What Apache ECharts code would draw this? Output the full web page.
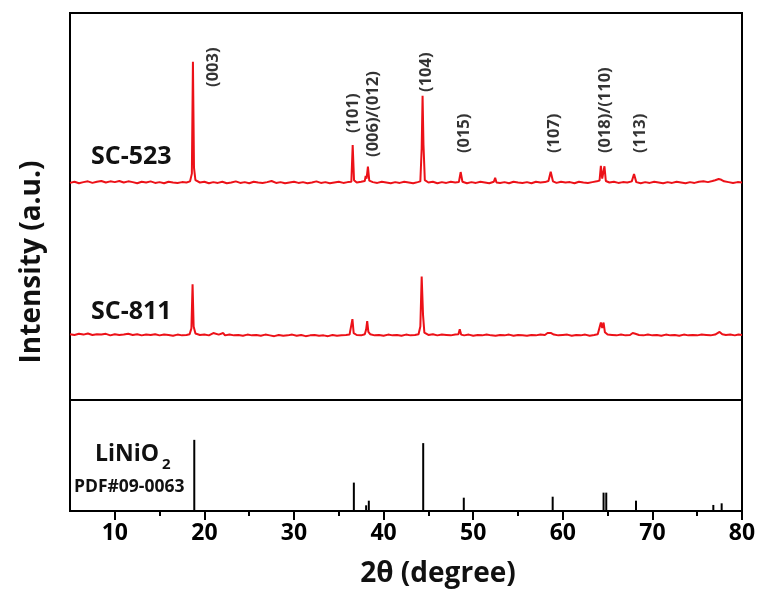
<!DOCTYPE html>
<html>
<head>
<meta charset="utf-8">
<title>XRD</title>
<script src="https://cdn.jsdelivr.net/npm/echarts@6/dist/echarts.min.js"></script>
<style>
html,body{margin:0;padding:0;background:#fff;}
#xrd{width:763px;height:595px;}
</style>
</head>
<body>
<div id="xrd"></div>
<script>
// 2theta / intensity pairs (top panel, stacked a.u.)
var sc523 = [
	[5,56.1],[5.5,56.4],[6,56.0],[6.5,56.3],[7,56.5],[7.5,56.1],[8,56.4],[8.5,56.6],[9,56.2],[9.5,56.5],
	[10,56.3],[10.5,56.6],[11,56.2],[11.5,56.5],[12,56.3],[12.5,56.0],[13,56.4],[13.5,56.2],[14,56.5],[14.5,56.1],
	[15,56.3],[15.5,56.0],[16,56.4],[16.5,56.2],[17,56.1],[17.5,56.3],[18,56.2],[18.4,56.5],[18.6,58.5],[18.72,87.4],
	[18.84,60.0],[19.0,56.8],[19.5,56.2],[20,56.4],[20.5,56.0],[21,56.3],[21.5,56.1],[22,56.4],[22.5,56.0],[23,56.2],
	[23.5,56.5],[24,56.1],[24.5,56.3],[25,56.0],[25.5,56.4],[26,56.2],[26.5,56.1],[27,56.3],[27.5,56.6],[28,56.1],
	[28.5,56.3],[29,56.0],[29.5,56.2],[30,56.4],[30.5,56.1],[31,56.3],[31.5,56.0],[32,56.2],[32.5,56.5],[33,56.1],
	[33.5,56.3],[34,56.0],[34.5,56.2],[35,56.4],[35.5,56.1],[36,56.3],[36.4,56.4],[36.55,65.9],[36.7,56.8],[37,56.2],
	[37.5,56.4],[37.9,56.6],[38.0,57.9],[38.1,57.2],[38.25,60.3],[38.4,56.7],[38.8,56.3],[39.3,56.1],[39.8,56.4],[40.3,56.2],
	[40.8,56.0],[41.3,56.3],[41.8,56.1],[42.3,56.4],[42.8,56.2],[43.3,56.0],[43.8,56.3],[44.1,56.5],[44.25,65.0],[44.35,78.6],
	[44.45,66.0],[44.6,56.8],[45,56.2],[45.5,56.4],[46,56.0],[46.5,56.3],[47,56.1],[47.5,56.4],[48,56.2],[48.4,56.3],
	[48.6,58.9],[48.8,56.4],[49.3,56.0],[49.8,56.3],[50.3,56.1],[50.8,56.4],[51.3,56.2],[51.8,56.0],[52.3,56.4],[52.45,57.4],
	[52.6,56.2],[53,56.1],[53.5,56.3],[54,56.0],[54.5,56.4],[55,56.2],[55.5,56.1],[56,56.3],[56.5,56.0],[57,56.4],
	[57.5,56.2],[58,56.3],[58.4,56.6],[58.65,59.0],[58.9,56.5],[59.3,56.1],[59.8,56.4],[60.3,56.2],[60.8,56.3],[61.3,56.0],
	[61.8,56.4],[62.3,56.2],[62.8,56.1],[63.3,56.3],[63.8,56.5],[64.1,56.7],[64.25,60.5],[64.4,57.2],[64.5,57.0],[64.65,60.4],
	[64.8,56.6],[65.2,56.2],[65.7,56.4],[66.2,56.1],[66.7,56.3],[67.2,56.2],[67.7,56.5],[67.95,58.4],[68.2,56.3],[68.7,56.0],
	[69.2,56.3],[69.7,56.1],[70.2,56.4],[70.7,56.2],[71.2,56.0],[71.7,56.3],[72.2,56.1],[72.7,56.4],[73.2,56.2],[73.7,56.0],
	[74.2,56.3],[74.7,56.1],[75.2,56.4],[75.7,56.5],[76.2,56.3],[76.7,56.6],[77.0,56.8],[77.4,57.1],[77.7,56.9],[78.0,56.5],
	[78.5,56.3],[79,56.1],[79.5,56.3],[80,56.2]
];
var sc811 = [
	[5,17.0],[5.5,16.8],[6,17.1],[6.5,16.9],[7,17.2],[7.5,16.8],[8,17.0],[8.5,16.9],[9,17.1],[9.5,16.7],
	[10,17.0],[10.5,16.8],[11,16.9],[11.5,17.1],[12,16.8],[12.5,17.0],[13,16.7],[13.5,16.9],[14,16.8],[14.5,17.0],
	[15,16.7],[15.5,16.9],[16,16.8],[16.5,16.6],[17,16.9],[17.5,16.7],[18,16.8],[18.35,17.0],[18.55,18.5],[18.68,29.9],
	[18.8,19.0],[19.0,17.2],[19.5,16.8],[20,16.9],[20.5,16.7],[21,17.3],[21.2,16.8],[21.6,16.9],[22.1,17.3],[22.3,16.7],
	[22.8,16.9],[23.3,16.7],[23.8,16.8],[24.3,16.6],[24.8,16.9],[25.3,16.7],[25.8,16.8],[26.3,16.6],[26.8,16.9],[27.3,16.7],
	[27.8,16.5],[28.3,16.8],[28.8,16.6],[29.3,16.7],[29.8,16.9],[30.3,16.6],[30.8,16.8],[31.3,16.5],[31.8,16.7],[32.3,16.8],
	[32.8,16.6],[33.3,16.7],[33.8,16.5],[34.3,16.8],[34.8,16.6],[35.3,16.7],[35.8,16.8],[36.2,16.9],[36.38,17.4],[36.52,20.9],
	[36.66,17.3],[37,16.8],[37.5,16.7],[37.9,17.0],[38.05,18.2],[38.17,20.4],[38.3,17.6],[38.5,17.0],[39,16.7],[39.5,16.8],
	[40,16.6],[40.5,16.9],[41,16.7],[41.5,16.8],[42,16.6],[42.5,16.9],[43,16.7],[43.5,16.8],[43.9,17.0],[44.1,19.0],
	[44.25,31.9],[44.4,22.0],[44.55,17.4],[45,16.8],[45.5,17.0],[46,16.7],[46.5,16.9],[47,16.8],[47.5,16.7],[48,16.9],
	[48.35,17.0],[48.5,18.3],[48.65,16.9],[49,16.7],[49.5,16.9],[50,16.6],[50.5,16.8],[51,16.7],[51.5,16.9],[52,16.7],
	[52.5,16.6],[53,16.8],[53.5,16.7],[54,16.9],[54.5,16.6],[55,16.8],[55.5,16.7],[56,16.6],[56.5,16.8],[57,16.7],
	[57.5,16.9],[58,16.8],[58.3,17.3],[58.5,17.8],[58.7,17.3],[59,16.9],[59.5,16.7],[60,16.8],[60.5,16.9],[61,16.6],
	[61.5,16.8],[62,16.7],[62.5,16.9],[63,16.6],[63.5,16.8],[63.9,17.0],[64.1,17.5],[64.25,20.0],[64.4,18.6],[64.55,20.0],
	[64.7,17.5],[65,16.9],[65.5,16.8],[66,16.7],[66.5,16.9],[67,16.7],[67.5,16.8],[67.8,17.3],[67.9,17.8],[68.1,17.1],
	[68.5,16.8],[69,16.7],[69.5,16.9],[70,16.7],[70.5,16.8],[71,16.6],[71.5,16.9],[72,16.7],[72.5,16.8],[73,16.6],
	[73.5,16.9],[74,16.7],[74.5,16.8],[75,16.7],[75.5,16.9],[76,16.8],[76.5,16.7],[77,16.9],[77.5,17.6],[77.8,17.0],
	[78.2,16.8],[78.7,16.9],[79.2,16.7],[79.6,16.9],[80,16.8]
];
// standard card LiNiO2 PDF#09-0063 (relative intensity)
var pdfAngles = [18.87, 36.68, 38.05, 38.35, 44.42, 48.95, 58.87, 64.55, 64.85, 68.17, 76.8, 77.73];
var pdfIntensity = [100, 39.9, 8, 14.5, 95.4, 18.7, 20.1, 25.8, 25.8, 14.5, 8.5, 10.8];
// hkl labels: [2theta, height, text]
var hklLabels = [
	[20.96, 80.9, '(003)'],
	[36.58, 69.0, '(101)'],
	[38.82, 62.8, '(006)/(012)'],
	[44.73, 79.6, '(104)'],
	[48.97, 63.8, '(015)'],
	[59.02, 63.8, '(107)'],
	[64.71, 63.8, '(018)/(110)'],
	[68.62, 63.8, '(113)']
];
var majorTicks = [10, 20, 30, 40, 50, 60, 70, 80];
var minorTicks = [15, 25, 35, 45, 55, 65, 75];

var fontName = '"Open Sans", "Noto Sans", sans-serif';
var lineRed = '#ec1118';

var pdfData = [];
for (var i = 0; i < pdfAngles.length; i++) {
	pdfData.push([pdfAngles[i], pdfIntensity[i]]);
}

var myChart = echarts.init(document.getElementById('xrd'));

var option = {
	backgroundColor: '#fff',
	animation: false,
	grid: [
		{left: 70, right: 21, top: 13, bottom: 195, show: true, borderColor: '#000', borderWidth: 2},
		{left: 70, right: 21, top: 400, bottom: 84, show: true, borderColor: '#000', borderWidth: 2}
	],
	xAxis: [
		{gridIndex: 0, type: 'value', min: 5, max: 80, show: false},
		{
			gridIndex: 1, type: 'value', min: 5, max: 80, position: 'bottom',
			axisLine: {show: true, onZero: false, lineStyle: {color: '#000', width: 2}},
			axisTick: {show: true, inside: false, length: 9, customValues: majorTicks, lineStyle: {color: '#000', width: 2}},
			axisLabel: {show: true, customValues: majorTicks, margin: 11, color: '#000', fontSize: 23, fontWeight: 'bold', fontFamily: fontName},
			splitLine: {show: false}
		},
		{
			// short ticks between the labelled ones
			gridIndex: 1, type: 'value', min: 5, max: 80, position: 'bottom',
			axisLine: {show: false, onZero: false},
			axisTick: {show: true, inside: false, length: 5, customValues: minorTicks, lineStyle: {color: '#000', width: 2}},
			axisLabel: {show: false},
			splitLine: {show: false}
		}
	],
	yAxis: [
		{gridIndex: 0, type: 'value', min: 0, max: 100, show: false},
		{gridIndex: 1, type: 'value', min: 0, max: 156, show: false}
	],
	graphic: [
		{type: 'text', left: 91, top: 144, style: {text: 'SC-523', fontSize: 25, fontWeight: 'bold', fontFamily: fontName, fill: '#111'}},
		{type: 'text', left: 91, top: 299, style: {text: 'SC-811', fontSize: 25, fontWeight: 'bold', fontFamily: fontName, fill: '#111'}},
		{type: 'text', left: 95, top: 443, style: {text: 'LiNiO', fontSize: 23, fontWeight: 'bold', fontFamily: fontName, fill: '#111'}},
		{type: 'text', left: 162, top: 457, style: {text: '2', fontSize: 15, fontWeight: 'bold', fontFamily: fontName, fill: '#111'}},
		{type: 'text', left: 74, top: 478, style: {text: 'PDF#09-0063', fontSize: 17.5, fontWeight: 'bold', fontFamily: fontName, fill: '#111'}},
		{
			type: 'text', x: 32, y: 262, rotation: Math.PI / 2,
			style: {text: 'Intensity (a.u.)', fontSize: 28, fontWeight: 'bold', fontFamily: fontName, fill: '#111', align: 'center', verticalAlign: 'middle'}
		},
		{
			type: 'text', x: 438, y: 574,
			style: {text: '2θ (degree)', fontSize: 28, fontWeight: 'bold', fontFamily: fontName, fill: '#111', align: 'center', verticalAlign: 'middle'}
		}
	],
	series: [
		{
			name: 'SC-523', type: 'line', xAxisIndex: 0, yAxisIndex: 0,
			data: sc523, showSymbol: false, symbol: 'none',
			lineStyle: {color: lineRed, width: 2}
		},
		{
			name: 'SC-811', type: 'line', xAxisIndex: 0, yAxisIndex: 0,
			data: sc811, showSymbol: false, symbol: 'none',
			lineStyle: {color: lineRed, width: 2}
		},
		{
			name: 'hkl', type: 'scatter', xAxisIndex: 0, yAxisIndex: 0,
			data: hklLabels, symbolSize: 1,
			itemStyle: {color: 'rgba(0,0,0,0)'},
			label: {
				show: true, position: 'inside', rotate: 90, align: 'left', verticalAlign: 'middle',
				formatter: function (p) { return p.data[2]; },
				color: '#000', fontSize: 16.5, fontWeight: 'bold', fontFamily: fontName
			}
		},
		{
			name: 'PDF#09-0063', type: 'bar', xAxisIndex: 1, yAxisIndex: 1,
			data: pdfData, barWidth: 2,
			itemStyle: {color: '#000'}
		}
	]
};
myChart.setOption(option);
</script>
</body>
</html>
